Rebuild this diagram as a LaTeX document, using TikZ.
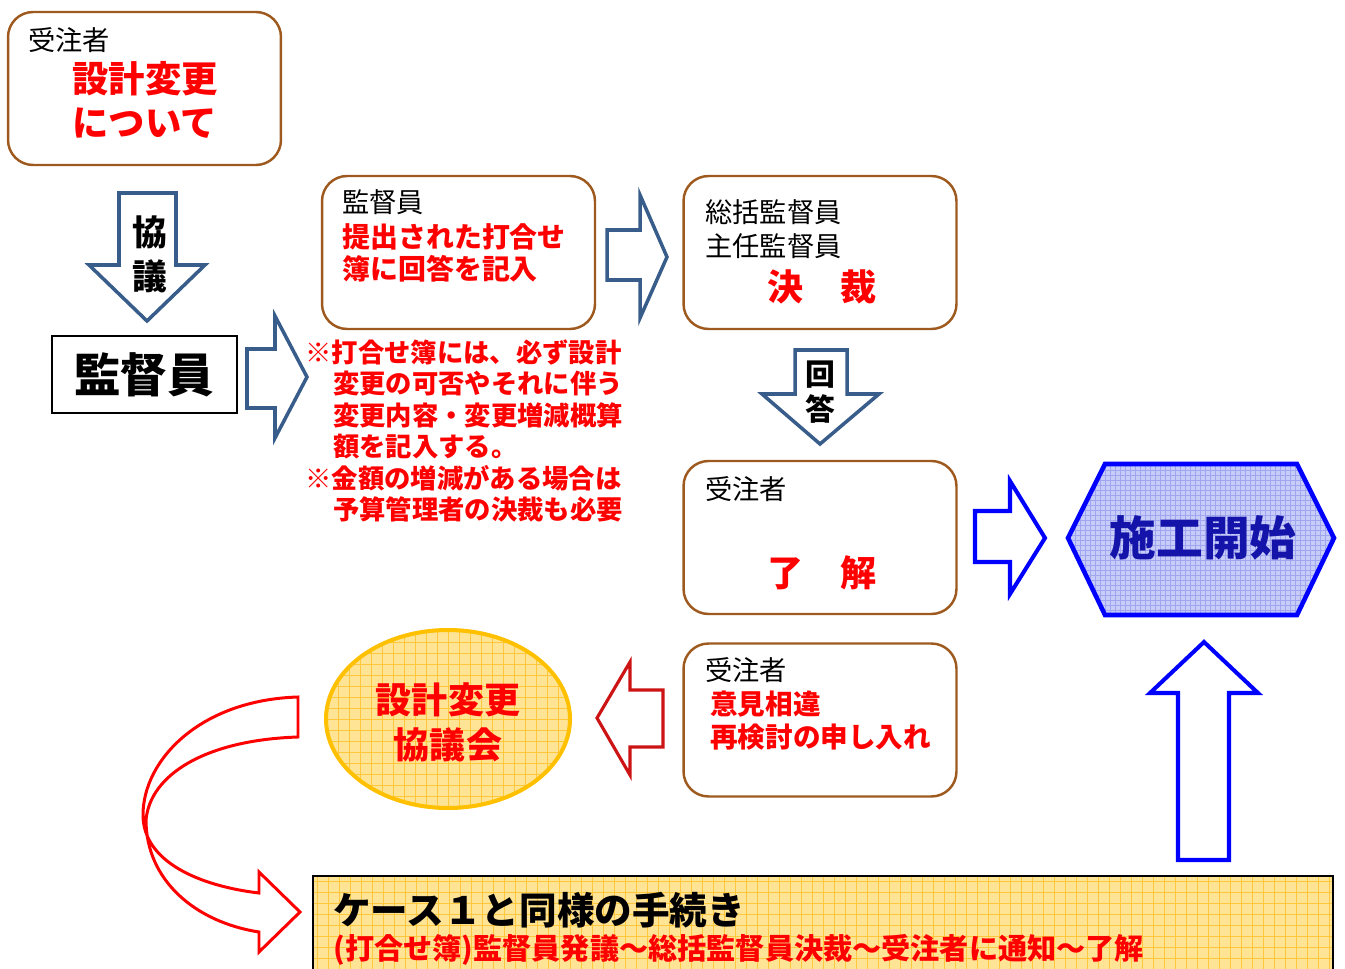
\documentclass[tikz,border=0pt]{standalone}
\usepackage{fontspec}
\setmainfont{Noto Sans CJK JP}
\usetikzlibrary{shapes.geometric}
\definecolor{boxbrown}{RGB}{158,90,30}
\definecolor{arrowsteel}{RGB}{56,93,138}
\definecolor{arrowred}{RGB}{205,20,20}
\definecolor{hexfill}{RGB}{200,204,248}
\definecolor{hexgrid}{RGB}{160,165,240}
\definecolor{hextext}{RGB}{20,20,170}
\definecolor{yelfill}{RGB}{255,228,150}
\definecolor{yelgrid}{RGB}{255,200,60}
\definecolor{yelline}{RGB}{255,192,0}
\newcommand{\jpfont}[2]{\fontsize{#1}{#2}\selectfont}

\tikzset{
	rbox/.style={draw=boxbrown, line width=1.4pt, rounded corners=0.5cm, minimum width=5.46cm, minimum height=3.06cm},
	lbl/.style={anchor=west, inner sep=0pt, font=\jpfont{15.5pt}{19.3pt}, align=left},
	redlbl/.style={anchor=west, inner sep=0pt, text=red, font=\bfseries\jpfont{15.9pt}{18.4pt}, align=left},
	bigred/.style={inner sep=0pt, text=red, font=\bfseries\jpfont{20.5pt}{25pt}, align=center},
	steelarrow/.style={draw=arrowsteel, line width=2pt, fill=white},
	bluearrow/.style={draw=blue, line width=2.3pt, fill=white},
	yelgridpic/.style={path picture={\draw[yelgrid, line width=0.4pt, step=0.22cm] (path picture bounding box.south west) grid (path picture bounding box.north east);}},
	hexgridpic/.style={path picture={\draw[hexgrid, line width=0.3pt, step=0.1cm] (path picture bounding box.south west) grid (path picture bounding box.north east);}},
}

\begin{document}
\begin{tikzpicture}[x=0.02cm, y=-0.02cm]
	\useasboundingbox (0,0) rectangle (1345,969);

	\node[rbox] (jutyuA) at (144.5,88.5) {};
	\node[lbl] (jutyuAname) at (28,40) {受注者};
	\node[bigred, font=\bfseries\jpfont{20.7pt}{25pt}, anchor=west, align=left] (henkou) at (72,100) {設計変更\\について};

	\draw[steelarrow] (119,193) -- (176,193) -- (176,265) -- (205,265) -- (147,321) -- (89,265) -- (119,265) -- cycle;
	\node[inner sep=0pt, font=\bfseries\jpfont{19.8pt}{25pt}, align=center] (kyougi) at (150,254) {協\\議};

	\node[draw, line width=0.9pt, minimum width=3.7cm, minimum height=1.54cm] (kantoku) at (144.5,374.5) {};
	\node[inner sep=0pt, font=\bfseries\jpfont{26.5pt}{30pt}] (kantokuname) at (144,375) {監督員};
	\draw[steelarrow] (247,349) -- (275,349) -- (275,316) -- (307,377) -- (275,438) -- (275,408) -- (247,408) -- cycle;

	\node[rbox] (kaitou) at (458.5,252.5) {};
	\node[lbl] (kaitouname) at (342,202) {監督員};
	\node[redlbl] (kaitoutext) at (342,253) {提出された打合せ\\簿に回答を記入};
	\draw[steelarrow] (607,230) -- (640,230) -- (640,195) -- (667,257) -- (640,318) -- (640,280) -- (607,280) -- cycle;

	\node[anchor=west, inner sep=0pt, text=red, font=\bfseries\jpfont{15pt}{17.9pt}, align=left] (chuui) at (305,431)
		{※打合せ簿には、必ず設計\\\hspace*{1.05em}変更の可否やそれに伴う\\\hspace*{1.05em}変更内容・変更増減概算\\\hspace*{1.05em}額を記入する。\\※金額の増減がある場合は\\\hspace*{1.05em}予算管理者の決裁も必要};

	\node[rbox] (kessai) at (820,252.5) {};
	\node[lbl] (kessainame) at (705,229) {総括監督員\\主任監督員};
	\node[bigred] (kessaitext) at (822,287) {決　裁};

	\draw[steelarrow] (795,350) -- (847,350) -- (847,394) -- (879,394) -- (820,444) -- (762,394) -- (795,394) -- cycle;
	\node[inner sep=0pt, font=\bfseries\jpfont{17pt}{19.8pt}, align=center] (kaitouarrow) at (820,392.5) {回\\答};

	\node[rbox] (ryoukai) at (820,537.5) {};
	\node[lbl] (ryoukainame) at (705,489) {受注者};
	\node[bigred] (ryoukaitext) at (822,573) {了　解};

	\draw[bluearrow] (975,511) -- (1010,511) -- (1010,481) -- (1045,538) -- (1010,594) -- (1010,562) -- (975,562) -- cycle;
	\draw[draw=blue, line width=2.6pt, fill=hexfill, hexgridpic] (1068,538) -- (1105,464) -- (1297,464) -- (1334,538) -- (1297,615) -- (1105,615) -- cycle;
	\node[inner sep=0pt, text=hextext, font=\bfseries\jpfont{26.6pt}{30pt}] (sekou) at (1203,538) {施工開始};

	\node[rbox] (iken) at (820,720) {};
	\node[lbl] (ikenname) at (705,670) {受注者};
	\node[redlbl, font=\bfseries\jpfont{15.7pt}{18.7pt}] (ikentext) at (710,720.5) {意見相違\\再検討の申し入れ};

	\draw[draw=arrowred, line width=1.8pt, fill=white] (663,690) -- (630,690) -- (630,662) -- (597,718) -- (630,775) -- (630,747) -- (663,747) -- cycle;

	\node[ellipse, draw=yelline, line width=2.3pt, fill=yelfill, yelgridpic, minimum width=4.88cm, minimum height=3.56cm] (kyougikai) at (448,719) {};
	\node[bigred, font=\bfseries\jpfont{20.5pt}{25.5pt}] (kyougikaitext) at (448,722.5) {設計変更\\協議会};

	\draw[red, line width=1.7pt] (298,697) .. controls (200,700) and (143,760) .. (143,815) .. controls (143,862) and (200,886) .. (259,893) -- (259,872) -- (300,912) -- (259,952) -- (259,932) .. controls (195,922) and (146,880) .. (146,820) .. controls (150,775) and (205,740) .. (298,737) -- cycle;

	\draw[bluearrow] (1178,860) -- (1178,693) -- (1150,693) -- (1204,642) -- (1258,693) -- (1229,693) -- (1229,860) -- cycle;

	\node[draw=black, line width=0.8pt, fill=yelfill, yelgridpic, minimum width=20.4cm, minimum height=1.98cm] (tetsuzuki) at (823,925.5) {};
	\node[anchor=west, inner sep=0pt, font=\bfseries\jpfont{21.4pt}{24pt}] (tetsuzukiname) at (333,910) {ケース１と同様の手続き};
	\node[anchor=west, inner sep=0pt, text=red, font=\bfseries\jpfont{16.6pt}{19pt}] (tetsuzukitext) at (333,950) {(打合せ簿)監督員発議～総括監督員決裁～受注者に通知～了解};
\end{tikzpicture}
\end{document}
